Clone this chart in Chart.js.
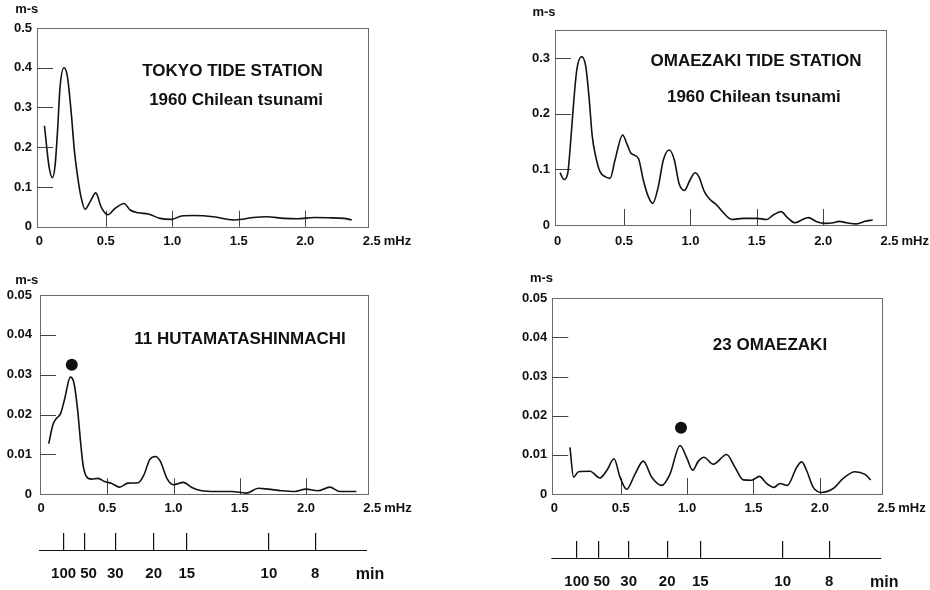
<!DOCTYPE html>
<html>
<head>
<meta charset="utf-8">
<script src="https://cdn.jsdelivr.net/npm/chart.js@4/dist/chart.umd.min.js"></script>
<style>
  html, body { margin: 0; padding: 0; background: #fff; }
  #wrap { position: relative; width: 930px; height: 590px; overflow: hidden; }
  canvas { position: absolute; }
</style>
</head>
<body>
<div id="wrap">
  <canvas id="tokyo" width="465" height="260" style="left:0;top:0"></canvas>
  <canvas id="omaeTide" width="465" height="260" style="left:465px;top:0"></canvas>
  <canvas id="hutamata" width="465" height="330" style="left:0;top:260px"></canvas>
  <canvas id="omae23" width="465" height="330" style="left:465px;top:260px"></canvas>
</div>
<script>
// ---- spectra (frequency in mHz, amplitude in m-s) ----
const tokyoFreq = [0.039,0.056,0.074,0.099,0.119,0.139,0.156,0.186,0.211,0.239,0.264,0.289,0.314,0.344,0.382,0.425,0.465,0.515,0.57,0.638,0.683,0.745,0.82,0.908,0.996,1.07,1.16,1.31,1.46,1.51,1.61,1.71,1.84,1.94,2.07,2.17,2.29,2.35];
const tokyoAmp  = [0.254,0.2,0.15,0.1235,0.154,0.25,0.35,0.40,0.379,0.292,0.192,0.125,0.075,0.044,0.0625,0.085,0.05,0.030,0.046,0.0585,0.042,0.035,0.032,0.021,0.0185,0.027,0.028,0.025,0.017,0.018,0.023,0.025,0.021,0.02,0.023,0.0225,0.021,0.017];

const omaeTideFreq = [0.018,0.048,0.076,0.093,0.118,0.144,0.181,0.212,0.236,0.261,0.287,0.319,0.357,0.395,0.432,0.49,0.52,0.553,0.608,0.645,0.683,0.716,0.758,0.796,0.841,0.879,0.914,0.954,0.997,1.035,1.065,1.105,1.148,1.198,1.248,1.311,1.399,1.5,1.575,1.624,1.682,1.737,1.788,1.838,1.888,1.951,2.014,2.076,2.122,2.177,2.252,2.315,2.373];
const omaeTideAmp  = [0.094,0.082,0.093,0.135,0.213,0.279,0.303,0.285,0.231,0.159,0.123,0.096,0.087,0.084,0.117,0.162,0.147,0.129,0.12,0.081,0.051,0.039,0.069,0.117,0.135,0.117,0.075,0.062,0.081,0.094,0.086,0.060,0.046,0.036,0.022,0.010,0.012,0.012,0.010,0.018,0.024,0.012,0.004,0.009,0.0133,0.006,0.003,0.004,0.0066,0.004,0.002,0.0066,0.009];

const hutamataFreq = [0.058,0.09,0.115,0.148,0.178,0.221,0.247,0.274,0.3,0.317,0.342,0.38,0.43,0.48,0.53,0.593,0.656,0.734,0.777,0.82,0.862,0.9,0.95,1.0,1.075,1.138,1.213,1.314,1.44,1.55,1.64,1.713,1.815,1.915,2.0,2.09,2.18,2.255,2.38];
const hutamataAmp  = [0.0127,0.0175,0.019,0.0203,0.0239,0.0294,0.0281,0.0218,0.0125,0.0074,0.0045,0.0038,0.004,0.0032,0.0028,0.0018,0.0028,0.0029,0.0049,0.0087,0.0095,0.0083,0.004,0.0024,0.003,0.0017,0.0009,0.0007,0.0007,0.0003,0.0015,0.0013,0.0009,0.0007,0.0013,0.0009,0.0018,0.0007,0.0007];

const omae23Freq = [0.118,0.145,0.183,0.269,0.344,0.395,0.45,0.495,0.545,0.608,0.67,0.734,0.809,0.871,0.947,0.997,1.042,1.085,1.127,1.197,1.298,1.361,1.423,1.486,1.544,1.599,1.654,1.70,1.755,1.825,1.863,1.9,1.95,2.013,2.1,2.176,2.264,2.34,2.383];
const omae23Amp  = [0.0119,0.0043,0.0057,0.0058,0.0041,0.006,0.009,0.0043,0.0012,0.0051,0.0084,0.0043,0.0022,0.0051,0.0124,0.0093,0.0061,0.0084,0.0094,0.0076,0.0101,0.0068,0.0036,0.0035,0.0045,0.0027,0.0017,0.0027,0.0022,0.0068,0.0082,0.006,0.0017,0.0004,0.0014,0.004,0.0057,0.005,0.0036];

// marked spectral peaks (dots)
const hutamataMark = [0.232, 0.0325];
const omae23Mark   = [0.954, 0.0169];

// ---- tick labels ----
const freqTicks     = [0, 0.5, 1.0, 1.5, 2.0, 2.5];
const tokyoAmpTicks = [0, 0.1, 0.2, 0.3, 0.4, 0.5];
const omaeAmpTicks  = [0, 0.1, 0.2, 0.3];
const gaugeAmpTicks = [0, 0.01, 0.02, 0.03, 0.04, 0.05];
const periodLabels  = [100, 50, 30, 20, 15, 10, 8];          // minutes
const periodTickMHz = [0.17, 0.33, 0.56, 0.85, 1.10, 1.72, 2.07];

const FONT = "'Liberation Sans', Arial, Helvetica, sans-serif";
const INK = '#111';
const FRAME = '#6a6a6a';

function pts(xs, ys) { return xs.map((x, i) => ({ x: x, y: ys[i] })); }
function fmtFreq(v) { return v === 0 ? '0' : v.toFixed(1); }
function fmtAmp(v) { return v === 0 ? '0' : String(v); }
// the 50-minute label sits a little right of its tick so it clears "100"
function fmtPeriod(i) { return (periodLabels[i] === 50 ? '\u2002' : '') + String(periodLabels[i]); }

function makePanel(id, p) {
  const decor = {
    id: 'panelDecor',
    beforeDatasetsDraw(chart) {
      const c = chart.ctx, a = chart.chartArea;
      const xs = chart.scales.x, ys = chart.scales.y;
      c.save();
      c.strokeStyle = FRAME;
      c.lineWidth = 1;
      c.strokeRect(Math.round(a.left) + 0.5, Math.round(a.top) + 0.5,
                   Math.round(a.right - a.left), Math.round(a.bottom - a.top));
      // short inward tick marks (none at the frame corners)
      c.strokeStyle = '#444';
      c.beginPath();
      p.yTicks.forEach(v => {
        if (v === 0) return;
        const y = Math.round(ys.getPixelForValue(v)) + 0.5;
        if (y > a.top + 2 && y < a.bottom - 2) { c.moveTo(a.left, y); c.lineTo(a.left + 16, y); }
      });
      freqTicks.forEach(v => {
        if (v === 0) return;
        const x = Math.round(xs.getPixelForValue(v)) + 0.5;
        if (x > a.left + 2 && x < a.right - 2) { c.moveTo(x, a.bottom); c.lineTo(x, a.bottom - 16); }
      });
      c.stroke();
      c.restore();
    },
    afterDraw(chart) {
      const c = chart.ctx, a = chart.chartArea;
      const xs = chart.scales.x, ys = chart.scales.y;
      c.save();
      c.fillStyle = INK;
      // panel titles
      c.font = 'bold 17px ' + FONT;
      c.textAlign = 'center';
      c.textBaseline = 'middle';
      p.titles.forEach(t => c.fillText(t.text, xs.getPixelForValue(t.x), ys.getPixelForValue(t.y)));
      // unit labels
      c.font = 'bold 13px ' + FONT;
      c.fillText('m-s', a.left + p.unitPos[0], a.top + p.unitPos[1]);
      c.textAlign = 'left';
      c.fillText('mHz', xs.getPixelForValue(2.5) + 12, xs.top + p.xPad + 7.8);
      // period scale baseline and unit
      const ps = chart.scales.period;
      if (ps) {
        const yLine = Math.round(ps.top + 17) + 0.5;
        c.strokeStyle = INK;
        c.lineWidth = 1.2;
        c.beginPath();
        c.moveTo(a.left - 1, yLine);
        c.lineTo(a.right - 1, yLine);
        c.stroke();
        c.font = 'bold 16px ' + FONT;
        c.textAlign = 'center';
        c.fillText('min', ps.right + 2, ps.top + 17 + 15 + 9.6);
      }
      c.restore();
    }
  };

  const scales = {
    x: {
      type: 'linear', min: p.xMin, max: p.xMax,
      afterBuildTicks: s => { s.ticks = freqTicks.map(v => ({ value: v })); },
      afterFit: s => { s.height = p.xAxisH; s.paddingLeft = 0; s.paddingRight = 0; },
      grid: { display: false, drawTicks: false },
      border: { display: false },
      ticks: { padding: p.xPad, color: INK, autoSkip: false, maxRotation: 0,
               font: { family: FONT, size: 13, weight: 'bold' }, callback: v => fmtFreq(v) }
    },
    y: {
      type: 'linear', min: 0, max: p.yMax,
      afterBuildTicks: s => { s.ticks = p.yTicks.map(v => ({ value: v })); },
      afterFit: s => { s.width = p.yAxisW; s.paddingTop = 0; s.paddingBottom = 0; },
      grid: { display: false, drawTicks: false },
      border: { display: false },
      ticks: { padding: p.yPad, color: INK, autoSkip: false,
               font: { family: FONT, size: 13, weight: 'bold' }, callback: v => fmtAmp(v) }
    }
  };
  if (p.period) {
    scales.period = {
      type: 'linear', axis: 'x', position: 'bottom', weight: 1,
      min: p.xMin, max: p.xMax,
      afterBuildTicks: s => { s.ticks = periodTickMHz.map(v => ({ value: v })); },
      afterFit: s => { s.height = p.periodH; s.paddingLeft = 0; s.paddingRight = 0; },
      grid: { display: true, drawOnChartArea: false, drawTicks: true, tickLength: 17,
              color: INK, lineWidth: 1.2 },
      border: { display: false },
      ticks: { padding: 15, color: INK, autoSkip: false, maxRotation: 0,
               font: { family: FONT, size: 15, weight: 'bold' },
               callback: (v, i) => fmtPeriod(i) }
    };
  }

  const datasets = [{
    type: 'line',
    data: pts(p.freq, p.amp),
    borderColor: INK, borderWidth: 1.6,
    pointRadius: 0, fill: false,
    cubicInterpolationMode: 'monotone'
  }];
  if (p.mark) {
    datasets.push({
      type: 'scatter',
      data: [{ x: p.mark[0], y: p.mark[1] }],
      pointRadius: 6, backgroundColor: INK, borderColor: INK, borderWidth: 0
    });
  }

  return new Chart(document.getElementById(id), {
    type: 'line',
    data: { datasets: datasets },
    options: {
      responsive: false, animation: false, devicePixelRatio: 1, events: [],
      layout: { padding: { left: 0, top: p.padT, right: p.padR, bottom: 0 } },
      plugins: { legend: { display: false }, tooltip: { enabled: false } },
      scales: scales
    },
    plugins: [decor]
  });
}

makePanel('tokyo', {
  freq: tokyoFreq, amp: tokyoAmp,
  xMin: -0.017, xMax: 2.472, yMax: 0.5, yTicks: tokyoAmpTicks,
  padT: 28, padR: 97, yAxisW: 37, xAxisH: 33.3, xPad: 7, yPad: 5,
  unitPos: [-10.3, -18.7],
  titles: [{ text: 'TOKYO TIDE STATION', x: 1.453, y: 0.392 },
           { text: '1960 Chilean tsunami', x: 1.48, y: 0.319 }]
});

makePanel('omaeTide', {
  freq: omaeTideFreq, amp: omaeTideAmp,
  xMin: -0.02, xMax: 2.471, yMax: 0.351, yTicks: omaeAmpTicks,
  padT: 30, padR: 44.3, yAxisW: 90, xAxisH: 35, xPad: 9, yPad: 5,
  unitPos: [-11, -17.3],
  titles: [{ text: 'OMAEZAKI TIDE STATION', x: 1.494, y: 0.295 },
           { text: '1960 Chilean tsunami', x: 1.478, y: 0.230 }]
});

makePanel('hutamata', {
  freq: hutamataFreq, amp: hutamataAmp, mark: hutamataMark,
  xMin: -0.008, xMax: 2.468, yMax: 0.05, yTicks: gaugeAmpTicks,
  padT: 35, padR: 97, yAxisW: 40, xAxisH: 38.7, xPad: 6, yPad: 8,
  period: true, periodH: 57,
  unitPos: [-13.3, -15],
  titles: [{ text: '11 HUTAMATASHINMACHI', x: 1.502, y: 0.0388 }]
});

makePanel('omae23', {
  freq: omae23Freq, amp: omae23Amp, mark: omae23Mark,
  xMin: -0.015, xMax: 2.47, yMax: 0.05, yTicks: gaugeAmpTicks,
  padT: 38.3, padR: 47.7, yAxisW: 87.3, xAxisH: 46.7, xPad: 7, yPad: 5,
  period: true, periodH: 49.3,
  unitPos: [-10.8, -20.3],
  titles: [{ text: '23 OMAEZAKI', x: 1.624, y: 0.038 }]
});
</script>
</body>
</html>
